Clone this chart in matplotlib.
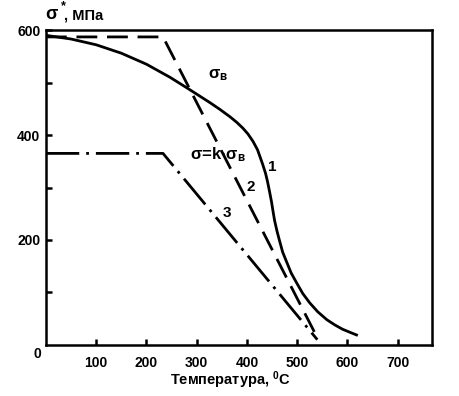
import matplotlib
matplotlib.use("Agg")
import matplotlib.pyplot as plt

plt.rcParams['font.family'] = ['Liberation Sans', 'DejaVu Sans']
plt.rcParams['mathtext.fontset'] = 'custom'
plt.rcParams['mathtext.rm'] = 'Liberation Sans'
plt.rcParams['mathtext.bf'] = 'Liberation Sans:bold'
plt.rcParams['mathtext.it'] = 'Liberation Sans:italic'

# Curve 1: sigma_v (solid)
t1 = [0, 50, 100, 150, 200, 247, 282, 326, 346, 366, 380, 392, 402, 412, 421, 431,
      437, 441, 445, 449, 452, 455, 460, 465, 471, 479, 488, 499, 511, 525, 541, 559,
      575, 590, 605, 618]
s1 = [590, 583, 572, 556, 535, 510, 489, 462, 449, 435, 424, 413, 402, 388, 372, 345,
      327, 311, 292, 272, 254, 237, 216, 198, 177, 158, 137, 118, 98, 80, 63, 48,
      38, 30, 24, 19]
# Curve 2: dashed
t2 = [0, 233, 542]
s2 = [587, 587, 10]
# Curve 3: dash-dot
t3 = [0, 233, 540]
s3 = [365, 365, 10]

xticks = [100, 200, 300, 400, 500, 600, 700]
yticks = [200, 400, 600]
yminor = [100, 300, 500]

fig = plt.figure(figsize=(4.59, 3.96), dpi=100)
ax = fig.add_axes([0.100, 0.129, 0.841, 0.795])
ax.set_xlim(0, 768)
ax.set_ylim(0, 600)

lw = 2.0
ax.plot(t1, s1, color='black', lw=lw, solid_joinstyle='round')
ax.plot(t2, s2, color='black', lw=lw, dashes=(7.5, 3.5))
ax.plot(t3, s3, color='black', lw=lw, dashes=(12, 2.5, 1, 2.5))

for sp in ax.spines.values():
    sp.set_linewidth(1.8)

ax.set_xticks(xticks)
ax.set_xticklabels([str(v) for v in xticks], fontsize=10, fontweight='bold')
ax.set_yticks(yticks)
ax.set_yticklabels([str(v) for v in yticks], fontsize=10, fontweight='bold')
ax.set_yticks(yminor, minor=True)
ax.tick_params(axis='both', which='major', direction='in', length=4, width=1.8, pad=4)
ax.tick_params(axis='y', which='minor', direction='in', length=4, width=1.8)
ax.tick_params(axis='x', pad=8)

ax.text(-10, -4, '0', ha='right', va='top', fontsize=10, fontweight='bold')

# Axis labels
fig.text(0.098, 0.963, 'σ', ha='left', va='center', fontsize=13, fontweight='bold')
fig.text(0.132, 0.985, '*', ha='left', va='center', fontsize=9, fontweight='bold')
fig.text(0.140, 0.960, ', МПа', ha='left', va='center', fontsize=10.5, fontweight='bold')
fig.text(0.503, 0.012, r'Температура, $\mathbf{^{0}}$C', ha='center', va='bottom',
         fontsize=10.5, fontweight='bold')

# Annotations
ax.text(342, 514, r'$\mathbf{σ_{в}}$', ha='center', va='center', fontsize=12)
ax.text(342, 362, r'σ=k·$\mathbf{σ_{в}}$', ha='center', va='center', fontsize=12,
        fontweight='bold')
ax.text(451, 340, '1', ha='center', va='center', fontsize=11, fontweight='bold')
ax.text(407, 301, '2', ha='center', va='center', fontsize=11, fontweight='bold')
ax.text(361, 251, '3', ha='center', va='center', fontsize=11, fontweight='bold')

fig.savefig('out.png', dpi=100)
